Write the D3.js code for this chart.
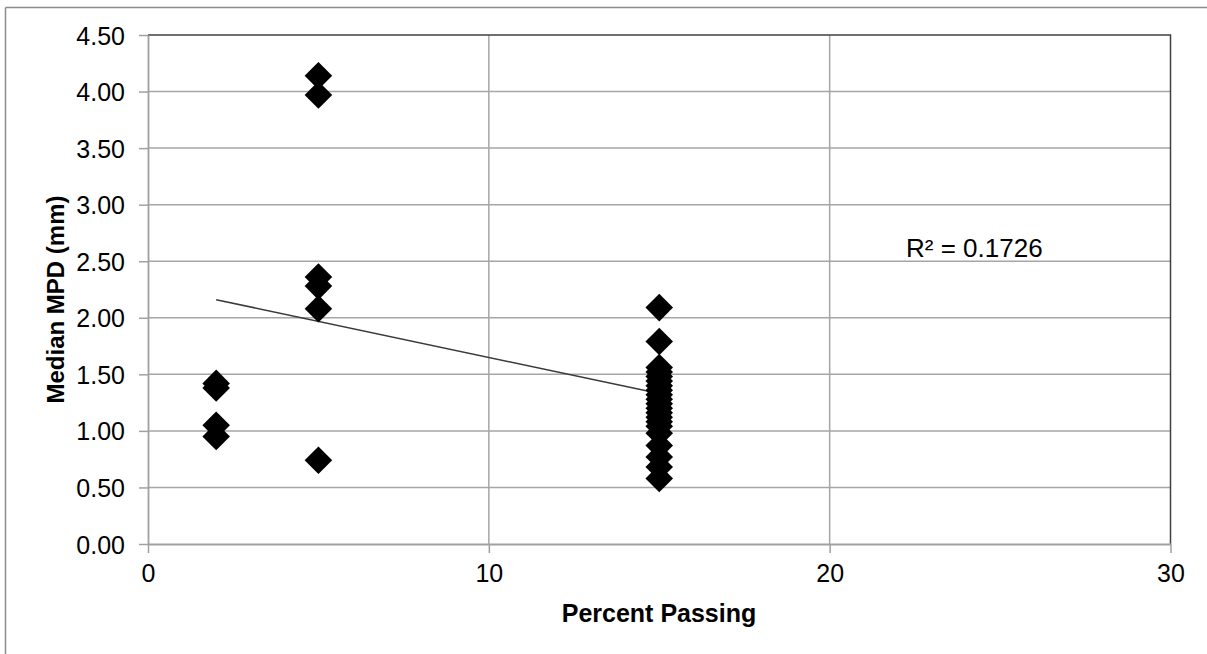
<!DOCTYPE html>
<html>
<head>
<meta charset="utf-8">
<script src="https://cdn.jsdelivr.net/npm/d3@7"></script>
<style>
  html, body { margin: 0; padding: 0; background: #fff; }
  svg { display: block; }
  text { font-family: "Liberation Sans", Arial, sans-serif; fill: #000; }
</style>
</head>
<body>
<svg id="chart" width="1207" height="654"></svg>
<script>
// ---- data ----
const xTicks = [0, 10, 20, 30];
const yTicks = [0, 0.5, 1, 1.5, 2, 2.5, 3, 3.5, 4, 4.5];
const pctPassing2 = [1.42, 1.38, 1.05, 0.95];
const pctPassing5 = [4.14, 3.97, 2.36, 2.28, 2.08, 0.74];
const pctPassing15 = [2.09, 1.79, 1.56, 1.52, 1.48, 1.44, 1.40, 1.36, 1.32, 1.28, 1.24, 1.20,
                      1.16, 1.12, 1.08, 1.04, 0.98, 0.87, 0.77, 0.68, 0.58];
const groupX = [2, 5, 15];
const trendX = [2, 15];
const trendY = [2.16, 1.33];
const r2Label = "R² = 0.1726";
const xTitle = "Percent Passing";
const yTitle = "Median MPD (mm)";

const points = [];
[pctPassing2, pctPassing5, pctPassing15].forEach((arr, i) =>
  arr.forEach(v => points.push({ x: groupX[i], y: v })));

// ---- layout ----
const svg = d3.select("#chart");
const L = 148, R = 1170.5, T = 35, B = 544;
const x = d3.scaleLinear().domain([0, 30]).range([L, R]);
const y = d3.scaleLinear().domain([0, 4.5]).range([B, T]);

// outer frame
svg.append("line").attr("x1", 5.5).attr("x2", 1207).attr("y1", 7.5).attr("y2", 7.5)
  .attr("stroke", "#8c8c8c").attr("stroke-width", 1.5);
svg.append("line").attr("x1", 5.5).attr("x2", 5.5).attr("y1", 7.5).attr("y2", 654)
  .attr("stroke", "#8c8c8c").attr("stroke-width", 1.5);

// gridlines
svg.append("g").selectAll("line").data(yTicks.filter(d => d > 0 && d < 4.5)).join("line")
  .attr("x1", L).attr("x2", R).attr("y1", d => y(d)).attr("y2", d => y(d))
  .attr("stroke", "#a6a6a6").attr("stroke-width", 1.5);
svg.append("g").selectAll("line").data(xTicks.filter(d => d > 0 && d < 30)).join("line")
  .attr("y1", T).attr("y2", B).attr("x1", d => x(d)).attr("x2", d => x(d))
  .attr("stroke", "#a6a6a6").attr("stroke-width", 1.5);

// plot border top/right
svg.append("path")
  .attr("d", `M${L},${T}H${R}V${B}`)
  .attr("fill", "none").attr("stroke", "#404040").attr("stroke-width", 1.5);

// axes
const yAxis = d3.axisLeft(y).tickValues(yTicks).tickFormat(d3.format(".2f"))
  .tickSizeInner(9).tickSizeOuter(0).tickPadding(14);
const gy = svg.append("g").attr("transform", `translate(${L},0)`).call(yAxis);
const xAxis = d3.axisBottom(x).tickValues(xTicks).tickFormat(d3.format("d"))
  .tickSizeInner(9).tickSizeOuter(0).tickPadding(11);
const gx = svg.append("g").attr("transform", `translate(0,${B})`).call(xAxis);
[gx, gy].forEach(g => {
  g.select(".domain").attr("stroke", "#a0a0a0").attr("stroke-width", 1.8);
  g.selectAll(".tick line").attr("stroke", "#a0a0a0").attr("stroke-width", 1.5);
  g.selectAll(".tick text").attr("font-size", 25)
    .attr("font-family", "'Liberation Sans', Arial, sans-serif").attr("fill", "#000");
});
gy.selectAll(".tick text").attr("dy", "0.36em");

// trendline
svg.append("line")
  .attr("x1", x(trendX[0])).attr("y1", y(trendY[0]))
  .attr("x2", x(trendX[1])).attr("y2", y(trendY[1]))
  .attr("stroke", "#3a3a3a").attr("stroke-width", 1.5);

// points (diamonds)
const diamond = d3.symbol().type(d3.symbolSquare).size(380);
svg.append("g").selectAll("path").data(points).join("path")
  .attr("d", diamond)
  .attr("transform", d => `translate(${x(d.x)},${y(d.y)}) rotate(45)`)
  .attr("fill", "#000");

// R² label
svg.append("text").attr("x", 906).attr("y", 257).attr("font-size", 26).text(r2Label);

// axis titles
svg.append("text").attr("x", 659).attr("y", 622).attr("text-anchor", "middle")
  .attr("font-size", 25).attr("font-weight", "bold").text(xTitle);
svg.append("text").attr("transform", `translate(64,${(T + B) / 2 + 10}) rotate(-90)`)
  .attr("text-anchor", "middle").attr("font-size", 24).attr("font-weight", "bold").text(yTitle);
</script>
</body>
</html>
